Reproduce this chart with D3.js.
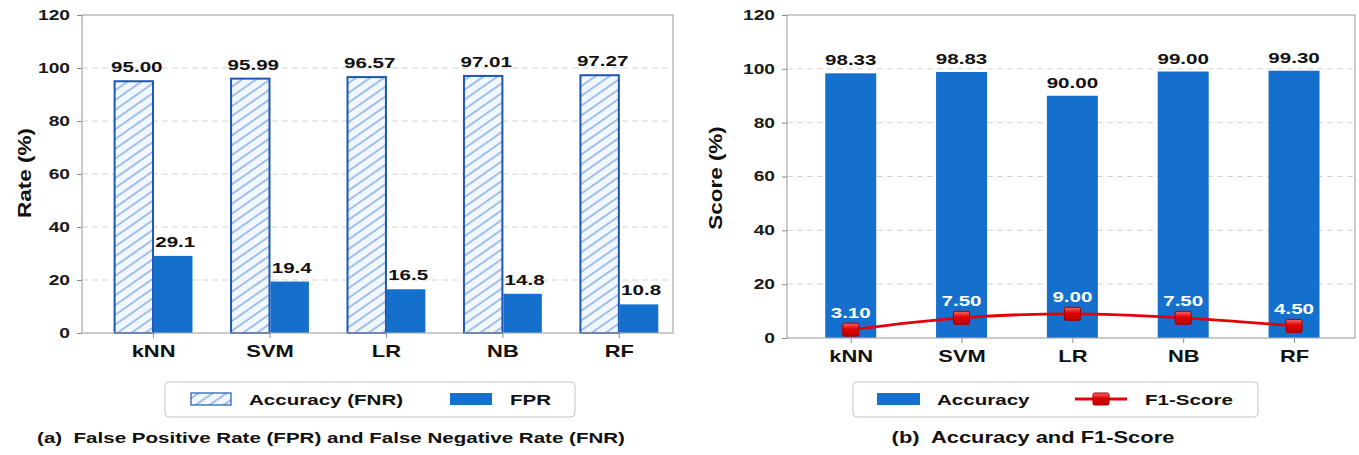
<!DOCTYPE html>
<html>
<head>
<meta charset="utf-8">
<script src="https://cdn.jsdelivr.net/npm/d3@7"></script>
<style>
  body { margin: 0; background: #fff; }
  svg { display: block; font-family: "Liberation Sans", Arial, sans-serif; }
</style>
</head>
<body>
<svg id="chart" width="1359" height="455"></svg>
<script>
// ---- data ----
var models = ['kNN', 'SVM', 'LR', 'NB', 'RF'];
var accFNR = [95.00, 95.99, 96.57, 97.01, 97.27];
var fpr = [29.1, 19.4, 16.5, 14.8, 10.8];
var accuracy = [98.33, 98.83, 90.00, 99.00, 99.30];
var f1Score = [3.10, 7.50, 9.00, 7.50, 4.50];
var yTicks = [0, 20, 40, 60, 80, 100, 120];

var blue = '#1470cc';
var svg = d3.select('#chart');

// hatch pattern
var defs = svg.append('defs');
var pat = defs.append('pattern')
    .attr('id', 'hatch')
    .attr('patternUnits', 'userSpaceOnUse')
    .attr('width', 8).attr('height', 8)
    .attr('patternTransform', 'rotate(-35)');
pat.append('rect').attr('width', 8).attr('height', 8).attr('fill', '#f2f7fd');
pat.append('line').attr('x1', 0).attr('y1', 4).attr('x2', 8).attr('y2', 4)
    .attr('stroke', '#4f8ad6').attr('stroke-width', 1);

var grad = defs.append('linearGradient').attr('id', 'mk').attr('x1', 0).attr('y1', 0).attr('x2', 0).attr('y2', 1);
grad.append('stop').attr('offset', '0%').attr('stop-color', '#ff6a6a');
grad.append('stop').attr('offset', '45%').attr('stop-color', '#e00000');
grad.append('stop').attr('offset', '100%').attr('stop-color', '#c00000');

function drawFrame(g, x, y, left, right, top, bottom) {
  // grid
  g.selectAll('.grid').data(yTicks.filter(function(d) { return d > 0 && d < 120; }))
    .enter().append('line')
      .attr('x1', left).attr('x2', right)
      .attr('y1', function(d) { return y(d); }).attr('y2', function(d) { return y(d); })
      .attr('stroke', '#d4d4d4').attr('stroke-dasharray', '6,4').attr('stroke-width', 1);

  // y axis
  var yAxis = g.append('g').attr('transform', 'translate(' + left + ',0)')
    .call(d3.axisLeft(y).tickValues(yTicks).tickSize(5).tickPadding(7));
  yAxis.select('.domain').remove();
  yAxis.selectAll('line').attr('stroke', '#888');
  yAxis.selectAll('text').attr('font-size', 14).attr('font-weight', 'bold')
    .attr('fill', '#1a1a1a').attr('font-family', '"Liberation Sans", Arial, sans-serif');

  // x axis
  var xAxis = g.append('g').attr('transform', 'translate(0,' + bottom + ')')
    .call(d3.axisBottom(x).tickValues(d3.range(models.length))
      .tickFormat(function(i) { return models[i]; }).tickSize(5).tickPadding(8));
  xAxis.select('.domain').remove();
  xAxis.selectAll('line').attr('stroke', '#888');
  xAxis.selectAll('text').attr('font-size', 16).attr('font-weight', 'bold')
    .attr('fill', '#111').attr('font-family', '"Liberation Sans", Arial, sans-serif');
}

function box(g, left, right, top, bottom) {
  g.append('rect').attr('x', left).attr('y', top)
    .attr('width', right - left).attr('height', bottom - top)
    .attr('fill', 'none').attr('stroke', '#a8a8a8').attr('stroke-width', 1.2);
}

// ---------------- Panel (a) ----------------
var aL = 82, aR = 673, aT = 15, aB = 333;
var xa = d3.scaleLinear().domain([-0.61, 4.465]).range([aL, aR]);
var ya = d3.scaleLinear().domain([0, 120]).range([aB, aT]);
var ga = svg.append('g');
drawFrame(ga, xa, ya, aL, aR, aT, aB);
var bwA = 0.33;

ga.selectAll('.hbar').data(accFNR).enter().append('rect')
  .attr('x', function(d, i) { return xa(i - bwA); })
  .attr('width', xa(bwA) - xa(0))
  .attr('y', function(d) { return ya(d); })
  .attr('height', function(d) { return ya(0) - ya(d); })
  .attr('fill', 'url(#hatch)').attr('stroke', '#1f56b3').attr('stroke-width', 2);

ga.selectAll('.fbar').data(fpr).enter().append('rect')
  .attr('x', function(d, i) { return xa(i) + 1; })
  .attr('width', xa(bwA) - xa(0))
  .attr('y', function(d) { return ya(d); })
  .attr('height', function(d) { return ya(0) - ya(d); })
  .attr('fill', blue);

ga.selectAll('.hlab').data(accFNR).enter().append('text')
  .attr('x', function(d, i) { return xa(i - bwA / 2) + 3; })
  .attr('y', function(d) { return ya(d) - 9; })
  .attr('text-anchor', 'middle').attr('font-size', 15).attr('font-weight', 'bold').attr('fill', '#111')
  .text(function(d) { return d.toFixed(2); });

ga.selectAll('.flab').data(fpr).enter().append('text')
  .attr('x', function(d, i) { return xa(i + bwA / 2) + 3; })
  .attr('y', function(d) { return ya(d) - 9; })
  .attr('text-anchor', 'middle').attr('font-size', 15).attr('font-weight', 'bold').attr('fill', '#111')
  .text(function(d) { return d.toFixed(1); });

box(ga, aL, aR, aT, aB);

ga.append('text').attr('transform', 'translate(31,173) rotate(-90)').attr('data-s', 1.25)
  .attr('text-anchor', 'middle').attr('font-size', 18).attr('font-weight', 'bold').attr('fill', '#111')
  .text('Rate (%)');

// legend (a)
ga.append('rect').attr('x', 165).attr('y', 382).attr('width', 410).attr('height', 35).attr('rx', 4)
  .attr('fill', '#fff').attr('stroke', '#c4c4c4');
ga.append('rect').attr('x', 191).attr('y', 393).attr('width', 40).attr('height', 12)
  .attr('fill', 'url(#hatch)').attr('stroke', '#1f56b3').attr('stroke-width', 1.2);
ga.append('text').attr('x', 249).attr('y', 405).attr('font-size', 15).attr('font-weight', 'bold').attr('fill', '#111')
  .text('Accuracy (FNR)');
ga.append('rect').attr('x', 450).attr('y', 393).attr('width', 42).attr('height', 12).attr('fill', blue);
ga.append('text').attr('x', 510).attr('y', 405).attr('font-size', 15).attr('font-weight', 'bold').attr('fill', '#111')
  .text('FPR');

ga.append('text').attr('x', 331).attr('y', 443).attr('text-anchor', 'middle')
  .attr('font-size', 15).attr('font-weight', 'bold').attr('fill', '#111').attr('xml:space', 'preserve')
  .text('(a)  False Positive Rate (FPR) and False Negative Rate (FNR)');

// ---------------- Panel (b) ----------------
var bL = 787, bR = 1355, bT = 15, bB = 338;
var xb = d3.scaleLinear().domain([-0.575, 4.55]).range([bL, bR]);
var yb = d3.scaleLinear().domain([0, 120]).range([bB, bT]);
var gb = svg.append('g');
drawFrame(gb, xb, yb, bL, bR, bT, bB);
var bwB = 0.46;

gb.selectAll('.abar').data(accuracy).enter().append('rect')
  .attr('x', function(d, i) { return xb(i - bwB / 2); })
  .attr('width', xb(bwB) - xb(0))
  .attr('y', function(d) { return yb(d); })
  .attr('height', function(d) { return yb(0) - yb(d); })
  .attr('fill', blue);

gb.selectAll('.alab').data(accuracy).enter().append('text')
  .attr('x', function(d, i) { return xb(i); })
  .attr('y', function(d) { return yb(d) - 8; })
  .attr('text-anchor', 'middle').attr('font-size', 15).attr('font-weight', 'bold').attr('fill', '#111')
  .text(function(d) { return d.toFixed(2); });

var line = d3.line()
  .x(function(d, i) { return xb(i); })
  .y(function(d) { return yb(d); })
  .curve(d3.curveMonotoneX);
gb.append('path').datum(f1Score).attr('d', line)
  .attr('fill', 'none').attr('stroke', '#e3000b').attr('stroke-width', 2.8);

gb.selectAll('.mk').data(f1Score).enter().append('rect')
  .attr('x', function(d, i) { return xb(i) - 8; })
  .attr('y', function(d) { return yb(d) - 6.5; })
  .attr('width', 16).attr('height', 13).attr('rx', 1.5)
  .attr('fill', 'url(#mk)').attr('stroke', '#a00000').attr('stroke-width', 1);

gb.selectAll('.flab2').data(f1Score).enter().append('text')
  .attr('x', function(d, i) { return xb(i); })
  .attr('y', function(d) { return yb(d) - 12; })
  .attr('text-anchor', 'middle').attr('font-size', 15).attr('font-weight', 'bold').attr('fill', '#fff')
  .text(function(d) { return d.toFixed(2); });

box(gb, bL, bR, bT, bB);

gb.append('text').attr('transform', 'translate(722,178) rotate(-90)').attr('data-s', 1.25)
  .attr('text-anchor', 'middle').attr('font-size', 18).attr('font-weight', 'bold').attr('fill', '#111')
  .text('Score (%)');

// legend (b)
gb.append('rect').attr('x', 853).attr('y', 382).attr('width', 405).attr('height', 35).attr('rx', 4)
  .attr('fill', '#fff').attr('stroke', '#c4c4c4');
gb.append('rect').attr('x', 877).attr('y', 393).attr('width', 43).attr('height', 12).attr('fill', blue);
gb.append('text').attr('x', 937).attr('y', 405).attr('font-size', 15).attr('font-weight', 'bold').attr('fill', '#111')
  .text('Accuracy');
gb.append('line').attr('x1', 1075).attr('x2', 1127).attr('y1', 399).attr('y2', 399)
  .attr('stroke', '#e3000b').attr('stroke-width', 2.8);
gb.append('rect').attr('x', 1093).attr('y', 393).attr('width', 16).attr('height', 12).attr('rx', 1.5)
  .attr('fill', 'url(#mk)').attr('stroke', '#a00000');
gb.append('text').attr('x', 1145).attr('y', 405).attr('font-size', 15).attr('font-weight', 'bold').attr('fill', '#111')
  .text('F1-Score');

gb.append('text').attr('x', 1033).attr('y', 443).attr('text-anchor', 'middle')
  .attr('font-size', 16).attr('font-weight', 'bold').attr('fill', '#111').attr('xml:space', 'preserve')
  .text('(b)  Accuracy and F1-Score');

// the source figure's lettering is noticeably wide: stretch every label horizontally
svg.selectAll('text').each(function() {
  var t = d3.select(this);
  var s = +t.attr('data-s') || 1.37;
  var x = +t.attr('x') || 0, y = +t.attr('y') || 0;
  var tr = t.attr('transform') || '';
  t.attr('x', null).attr('y', null)
    .attr('transform', tr + ' translate(' + x + ',' + y + ') scale(' + s + ',1)');
});
</script>
</body>
</html>
